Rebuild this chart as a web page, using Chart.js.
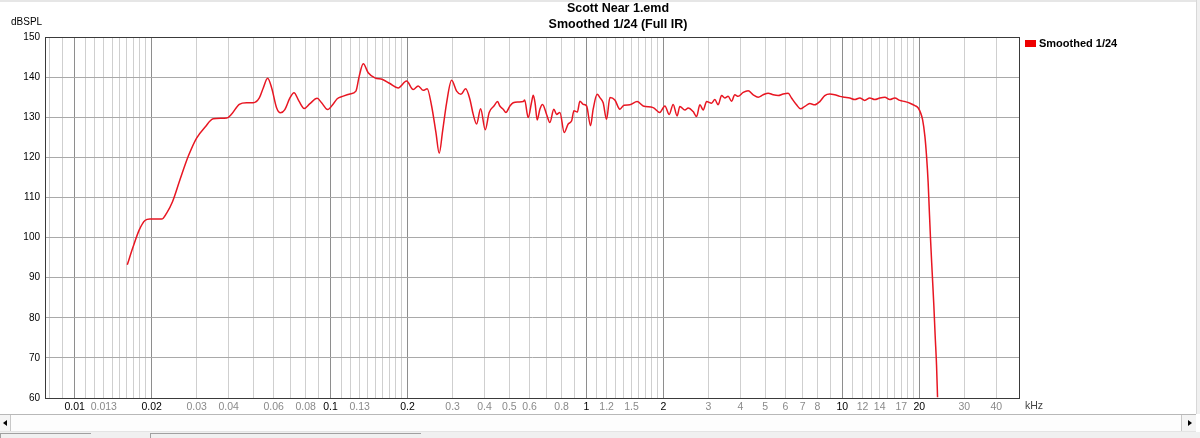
<!DOCTYPE html>
<html><head><meta charset="utf-8">
<script src="https://cdn.jsdelivr.net/npm/chart.js@4.4.1/dist/chart.umd.min.js"></script>
<style>
html,body{margin:0;padding:0;background:#fff;width:1200px;height:438px;overflow:hidden;}
#wrap{position:relative;width:1200px;height:438px;}
#c{position:absolute;left:0;top:0;}
#topband{position:absolute;left:0;top:0;width:1200px;height:2px;background:#e6e6e6;}
#vscroll{position:absolute;left:1196px;top:0;width:4px;height:414px;background:#f0f0f0;border-left:1px solid #d8d8d8;}
#hscroll{position:absolute;left:0;top:414px;width:1196px;height:16px;background:#fdfdfd;border-top:1px solid #b8b8b8;border-bottom:1px solid #e4e4e4;}
#hscroll .btnl{position:absolute;left:0;top:0;width:10px;height:16px;background:#f4f4f4;border-right:1px solid #c8c8c8;}
#hscroll .btnr{position:absolute;right:0;top:0;width:14px;height:16px;background:#f4f4f4;border-left:1px solid #c8c8c8;}
.tl{position:absolute;left:3px;top:5px;width:0;height:0;border-top:3px solid transparent;border-bottom:3px solid transparent;border-right:4px solid #000;}
.tr{position:absolute;left:6px;top:5px;width:0;height:0;border-top:3px solid transparent;border-bottom:3px solid transparent;border-left:4px solid #000;}
#status{position:absolute;left:0;top:432px;width:1200px;height:6px;background:#f0f0f0;}
#status .box{position:absolute;top:1px;height:6px;border-top:1px solid #a0a0a0;border-left:1px solid #a0a0a0;}
</style>
</head><body>
<div id="wrap">
<canvas id="c" width="1200" height="438"></canvas>
<div id="topband"></div>
<div id="vscroll"></div>
<div id="hscroll"><div class="btnl"><div class="tl"></div></div><div class="btnr"><div class="tr"></div></div></div>
<div id="status"><div class="box" style="left:0;width:90px"></div><div class="box" style="left:150px;width:270px"></div></div>
</div>
<script>
// ---- Data ----
const titleLines = ['Scott Near 1.emd', 'Smoothed 1/24 (Full IR)'];
const seriesName = 'Smoothed 1/24';
const yAxisUnit = 'dBSPL';
const xAxisUnit = 'kHz';

const freqKHz = [
  0.01606,0.01694,0.01789,0.01883,0.0197,0.02188,0.02289,0.02415,0.0258,0.0278,
  0.02997,0.0323,0.0348,0.0393,0.0411,0.0440,0.0470,0.0499,0.0527,0.0546,
  0.0568,0.0589,0.0616,0.0638,0.0663,0.0694,0.0720,0.0753,0.0789,0.0831,
  0.0887,0.0923,0.0974,0.1025,0.1062,0.1121,0.1191,0.1257,0.1295,0.1343,
  0.1404,0.1491,0.1598,0.1707,0.1839,0.1983,0.2105,0.2201,0.2303,0.2387,
  0.2484,0.2582,0.2660,0.2743,0.2843,0.2973,0.3111,0.3233,0.3373,0.3505,
  0.3612,0.3724,0.3861,0.4024,0.4170,0.4352,0.4498,0.459,0.473,0.4849,
  0.5025,0.5176,0.5415,0.5664,0.5736,0.5925,0.610,0.6198,0.6300,0.6425,
  0.658,0.674,0.699,0.720,0.746,0.765,0.788,0.819,0.849,0.876,
  0.894,0.922,0.943,0.972,1.002,1.038,1.063,1.102,1.129,1.163,
  1.199,1.236,1.292,1.352,1.402,1.479,1.579,1.667,1.824,1.936,
  2.027,2.107,2.183,2.263,2.319,2.427,2.500,2.613,2.696,2.777,
  2.861,2.950,3.085,3.177,3.273,3.376,3.477,3.581,3.692,3.802,
  3.917,4.101,4.288,4.487,4.693,4.909,5.134,5.370,5.617,5.875,
  6.145,6.334,6.625,6.868,7.139,7.467,7.810,8.169,8.544,8.936,
  9.346,9.78,10.23,10.70,11.19,11.71,12.24,12.81,13.40,14.02,
  14.67,15.34,16.05,16.79,17.57,18.39,19.23,19.81,20.23,20.60,
  21.03,21.35,21.66,21.85,22.13,22.46,22.80,23.07,23.36,23.57
];
const splDb = [
  93.2,97.75,101.9,104.25,104.6,104.6,106.1,109.0,114.4,120.25,
  124.8,127.5,129.6,129.8,130.8,133.2,133.6,133.6,134.8,137.3,
  139.7,137.3,132.3,131.1,131.9,134.8,136.1,134.0,132.2,133.4,
  134.7,133.6,131.9,133.3,134.6,135.25,135.8,136.5,140.25,143.3,
  141.1,139.8,139.4,138.4,137.3,139.0,136.9,137.8,136.7,137.1,
  132.8,126.2,121.0,126.6,133.6,139.2,136.5,135.7,137.1,134.5,
  130.7,128.3,132.1,126.9,131.2,132.8,133.9,132.8,132.0,131.2,
  132.8,133.6,133.8,133.9,134.3,129.9,133.6,135.5,133.6,129.3,
  132.0,133.2,130.7,128.7,132.0,130.7,131.2,126.2,128.3,129.1,
  131.6,131.3,134.0,133.2,132.8,127.9,132.0,135.7,134.9,133.6,
  129.5,134.9,134.3,132.0,133.0,133.1,133.9,132.8,132.4,131.2,
  132.8,130.7,133.2,130.3,132.7,131.8,132.3,131.4,130.2,133.1,
  131.8,133.9,133.5,134.4,133.1,135.4,134.8,135.2,134.0,135.6,
  135.2,136.2,136.6,135.6,135.0,135.6,136.0,135.6,135.4,135.8,
  136.0,134.8,133.1,132.1,132.7,133.4,133.1,133.9,135.4,135.8,
  135.6,135.2,135.0,134.8,134.4,134.8,134.2,134.8,134.4,134.8,
  135.0,134.4,134.8,134.2,133.9,133.5,132.9,132.3,131.1,129.4,
  125.3,120.3,113.7,107.9,99.6,91.3,83.0,75.5,68.1,60.2
];

const xMin = 0.00766, xMax = 49.5;
const yTicks = [60,70,80,90,100,110,120,130,140,150];
const xTickLabels = ['0.01','0.013','0.02','0.03','0.04','0.06','0.08','0.1','0.13','0.2',
  '0.3','0.4','0.5','0.6','0.8','1','1.2','1.5','2','3','4','5','6','7','8',
  '10','12','14','17','20','30','40'];
const xMajorValues = [0.01,0.02,0.1,0.2,1,2,10,20];
const xGridDecades = [0.001,0.01,0.1,1,10];
const xGridSteps = [1,1.1,1.2,1.3,1.4,1.5,1.6,1.7,1.8,1.9,2,3,4,5,6,7,8,9];

// grid line positions
const xGridValues = [];
xGridDecades.forEach(d => xGridSteps.forEach(s => {
  const v = parseFloat((d*s).toPrecision(6));
  if (v >= xMin && v <= xMax) xGridValues.push(v);
}));
const same = (a,b) => Math.abs(a/b - 1) < 1e-6;
const isMajor = v => xMajorValues.some(m => same(m, v));
const labelFor = v => { const s = xTickLabels.find(t => same(parseFloat(t), v)); return s === undefined ? '' : s; };

const points = freqKHz.map((f,i) => ({x:f, y:splDb[i]}));

const overlay = {
  id:'overlay',
  afterDraw(chart){
    const ctx = chart.ctx, a = chart.chartArea;
    ctx.save();
    // plot frame
    ctx.strokeStyle = '#3a3a3a'; ctx.lineWidth = 1;
    ctx.strokeRect(Math.round(a.left)+0.5, Math.round(a.top)+0.5, Math.round(a.right-a.left)-1, Math.round(a.bottom-a.top));
    // titles
    ctx.fillStyle = '#000';
    ctx.textAlign = 'center'; ctx.textBaseline = 'middle';
    ctx.font = 'bold 12.5px "Liberation Sans", Arial, sans-serif';
    ctx.fillText(titleLines[0], 618, 9);
    ctx.fillText(titleLines[1], 618, 25);
    // axis units
    ctx.font = '10px "Liberation Sans", Arial, sans-serif';
    ctx.textAlign = 'left';
    ctx.fillText(yAxisUnit, 11, 22);
    ctx.fillStyle = '#444';
    ctx.font = '10.5px "Liberation Sans Narrow", "Liberation Sans", Arial, sans-serif';
    ctx.fillText(xAxisUnit, 1025, 406);
    // legend
    const ds = chart.data.datasets[0];
    ctx.fillStyle = '#ee0000';
    ctx.fillRect(1025, 40, 11, 7);
    ctx.fillStyle = '#000';
    ctx.font = 'bold 11px "Liberation Sans", Arial, sans-serif';
    ctx.fillText(ds.label, 1039, 44);
    ctx.restore();
  }
};

new Chart(document.getElementById('c'), {
  type:'line',
  data:{ datasets:[{
    label: seriesName,
    data: points,
    borderColor:'rgb(232,22,34)',
    borderWidth:1.5,
    pointRadius:0,
    fill:false,
    cubicInterpolationMode:'monotone'
  }]},
  options:{
    responsive:false,
    animation:false,
    devicePixelRatio:1,
    layout:{ padding:{ top:37, right:180, left:0, bottom:0 } },
    plugins:{ legend:{display:false}, title:{display:false}, tooltip:{enabled:false} },
    scales:{
      x:{
        type:'logarithmic', min:xMin, max:xMax,
        afterBuildTicks: s => { s.ticks = xGridValues.map(v => ({value:v})); },
        afterFit: s => { s.height = 40; },
        border:{display:false},
        grid:{ drawTicks:false,
          color: c => (c.tick && isMajor(c.tick.value)) ? '#8e8e8e' : '#cfcfcf',
          lineWidth:1 },
        ticks:{ autoSkip:false, maxRotation:0, minRotation:0, padding:3,
          callback: v => labelFor(v),
          color: c => (c.tick && isMajor(c.tick.value)) ? '#000' : '#8a8a8a',
          font:{ family:'"Liberation Sans Narrow", "Liberation Sans", Arial, sans-serif', size:10.5 } }
      },
      y:{
        type:'linear', min:60, max:150,
        afterBuildTicks: s => { s.ticks = yTicks.map(v => ({value:v})); },
        afterFit: s => { s.width = 45; },
        border:{display:false},
        grid:{ drawTicks:false, color:'#a9a9a9', lineWidth:1 },
        ticks:{ padding:5, color:'#000',
          font:{ family:'"Liberation Sans", Arial, sans-serif', size:10 } }
      }
    }
  },
  plugins:[overlay]
});
</script>
</body></html>
